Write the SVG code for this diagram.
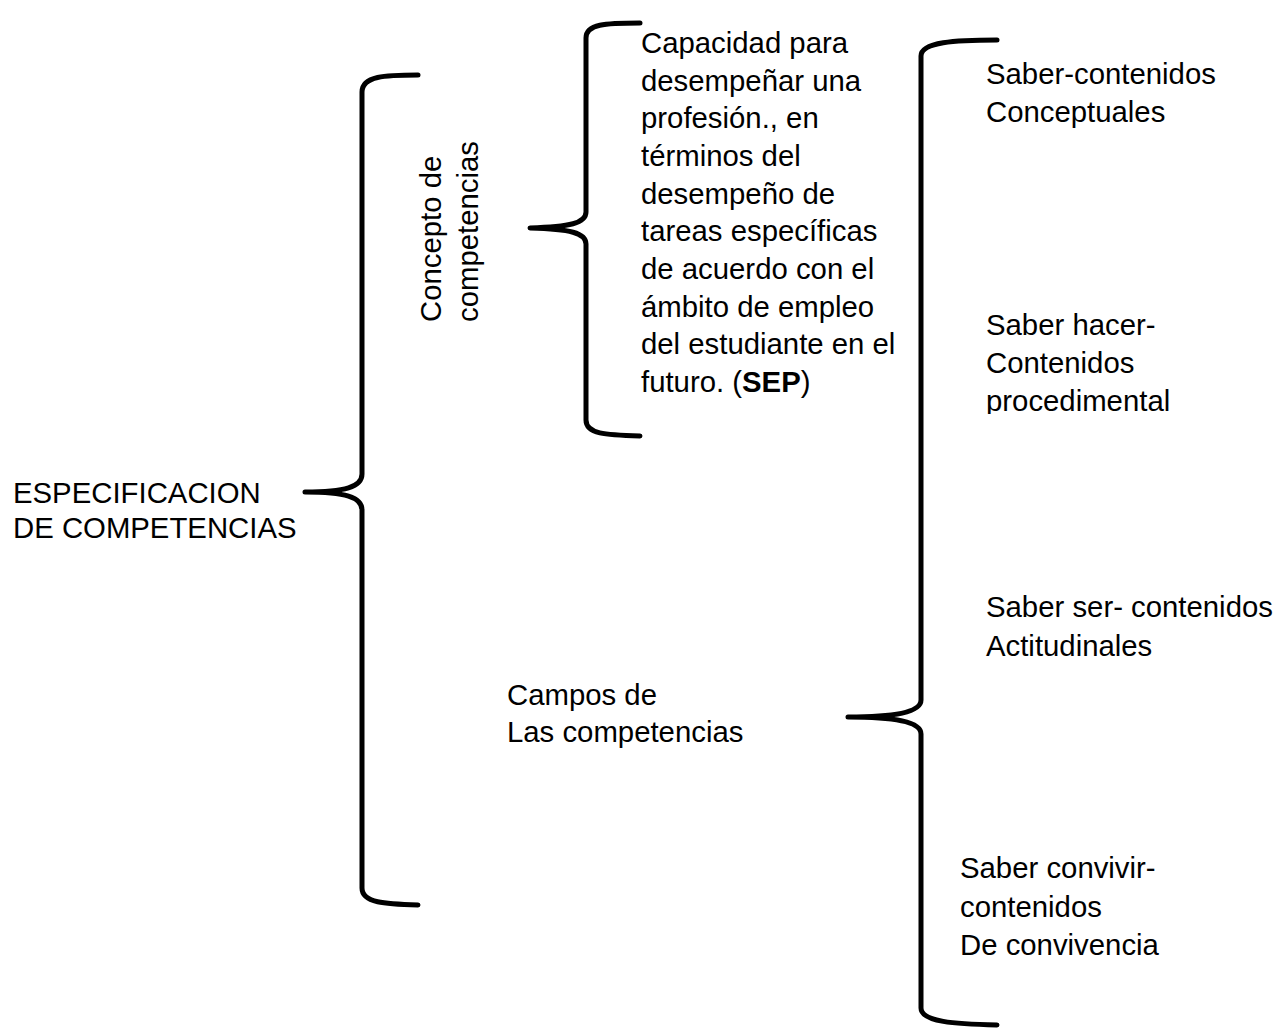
<svg xmlns="http://www.w3.org/2000/svg" width="1278" height="1034" viewBox="0 0 1278 1034">
<style>
.t{font-family:"Liberation Sans",Arial,sans-serif;font-size:29.33px;fill:#000}
.b{fill:none;stroke:#000;stroke-width:5;stroke-linecap:round;stroke-linejoin:round}
</style>
<defs>
<clipPath id="clipProc"><rect x="980" y="380" width="298" height="34"/></clipPath>
</defs>
<rect width="1278" height="1034" fill="#fff"/>
<g id="connectors">
<path id="brace-main" class="b" d="M418,75 C385,75 362,76 362,92 L362,474 C362,487 345,492 305,492 C345,492 362,497 362,510 L362,888 C362,903 385,904 418,905"/>
<path id="brace-concepto" class="b" d="M640,23 C605,23 586,24 586,38 L586,212 C586,223 570,227 530,228 C570,229 586,233 586,244 L586,420 C586,434 605,435 640,436"/>
<path id="brace-campos" class="b" d="M997,40 C955,40 921,42 921,56 L921,700 C921,712 895,717 848,717 C895,717 921,722 921,734 L921,1008 C921,1022 955,1024 997,1025"/>
</g>
<g id="node-especificacion">
<text class="t" x="13" y="503">ESPECIFICACION</text>
<text class="t" x="13" y="538">DE COMPETENCIAS</text>
</g>
<g id="node-concepto">
<text class="t" transform="translate(441,322) rotate(-90)"><tspan x="0" y="0">Concepto de</tspan><tspan x="0" y="37">competencias</tspan></text>
</g>
<g id="node-definicion">
<text class="t">
<tspan x="641" y="53">Capacidad para</tspan>
<tspan x="641" y="90.7">desempeñar una</tspan>
<tspan x="641" y="128.3">profesión., en</tspan>
<tspan x="641" y="166">términos del</tspan>
<tspan x="641" y="203.7">desempeño de</tspan>
<tspan x="641" y="241.3">tareas específicas</tspan>
<tspan x="641" y="279">de acuerdo con el</tspan>
<tspan x="641" y="316.7">ámbito de empleo</tspan>
<tspan x="641" y="354.3">del estudiante en el</tspan>
<tspan x="641" y="392">futuro. (<tspan font-weight="bold">SEP</tspan>)</tspan>
</text>
</g>
<g id="node-campos">
<text class="t" x="507" y="705">Campos de</text>
<text class="t" x="507" y="742">Las competencias</text>
</g>
<g id="node-saber">
<text class="t" x="986" y="84">Saber-contenidos</text>
<text class="t" x="986" y="122">Conceptuales</text>
</g>
<g id="node-saber-hacer">
<text class="t" x="986" y="335">Saber hacer-</text>
<text class="t" x="986" y="373">Contenidos</text>
<text class="t" x="986" y="411" clip-path="url(#clipProc)">procedimental</text>
</g>
<g id="node-saber-ser">
<text class="t" x="986" y="617">Saber ser- contenidos</text>
<text class="t" x="986" y="656">Actitudinales</text>
</g>
<g id="node-saber-convivir">
<text class="t" x="960" y="878">Saber convivir-</text>
<text class="t" x="960" y="917">contenidos</text>
<text class="t" x="960" y="955">De convivencia</text>
</g>
</svg>
